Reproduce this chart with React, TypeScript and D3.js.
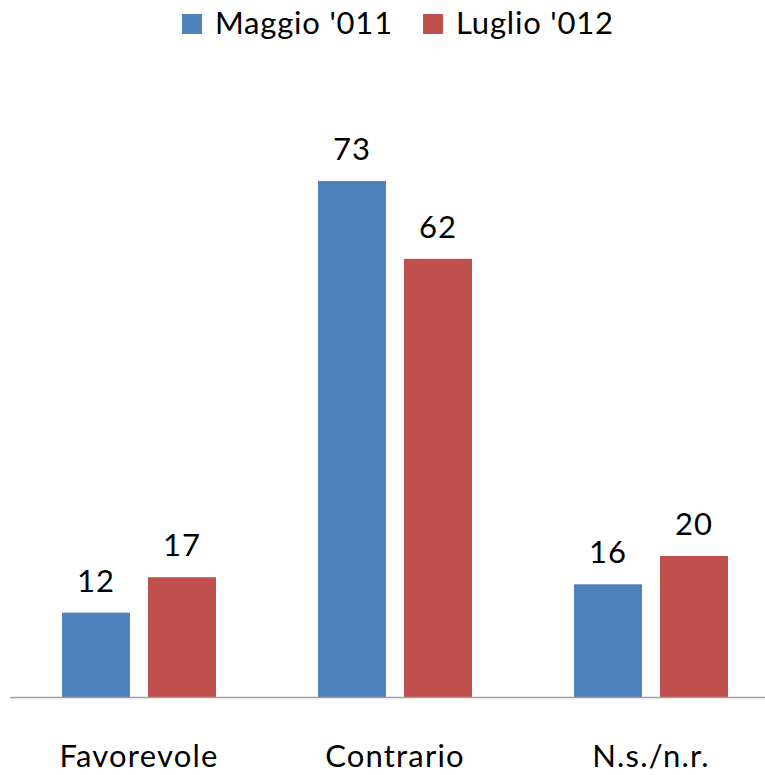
import React from "react";
import * as d3 from "d3";

const categories = ["Favorevole", "Contrario", "N.s./n.r."];
const seriesNames = ["Maggio '011", "Luglio '012"];
const maggio = [12, 73, 16];
const luglio = [17, 62, 20];
const colors = ["#4F81BD", "#C0504D"];

const W = 765;
const H = 775;
const FONT = "Lato, 'Open Sans', sans-serif";

export default function App() {
  const x0 = d3.scaleBand<string>().domain(categories).range([11, 779]).paddingInner(0).paddingOuter(0);
  const x1 = d3
    .scaleBand<string>()
    .domain(seriesNames)
    .range([51, 205])
    .paddingInner(18 / 86)
    .paddingOuter(0);
  const y = d3.scaleLinear().domain([0, 73]).range([697.5, 181]);
  const values = [maggio, luglio];

  const legendX = [182, 423];

  return (
    <svg
      width={W}
      height={H}
      style={{ position: "absolute", left: 0, top: 0, background: "#fff" }}
      fontFamily={FONT}
    >
      <rect x={0} y={0} width={W} height={H} fill="#fff" />
      {/* legend */}
      {seriesNames.map((s, i) => (
        <g key={s}>
          <rect x={legendX[i]} y={14} width={20} height={20} fill={colors[i]} />
          <text x={legendX[i] + 33} y={34} fontSize={31} letterSpacing={0.8} fill="#000">
            {s}
          </text>
        </g>
      ))}
      {/* bars */}
      {categories.map((c, ci) => (
        <g key={c} transform={`translate(${x0(c)},0)`}>
          {seriesNames.map((s, si) => {
            const v = values[si][ci];
            const bx = x1(s)!;
            const bw = x1.bandwidth();
            return (
              <g key={s}>
                <rect x={bx} y={y(v)} width={bw} height={y(0) - y(v)} fill={colors[si]} />
                <text x={bx + bw / 2} y={y(v) - 21} textAnchor="middle" fontSize={31} letterSpacing={1} fill="#000">
                  {v}
                </text>
              </g>
            );
          })}
          <text x={x0.bandwidth() / 2} y={767} textAnchor="middle" fontSize={31} letterSpacing={1.2} fill="#000">
            {c}
          </text>
        </g>
      ))}
      {/* axis */}
      <line x1={10} x2={765} y1={y(0)} y2={y(0)} stroke="#A0A0A0" strokeWidth={1.5} />
    </svg>
  );
}
